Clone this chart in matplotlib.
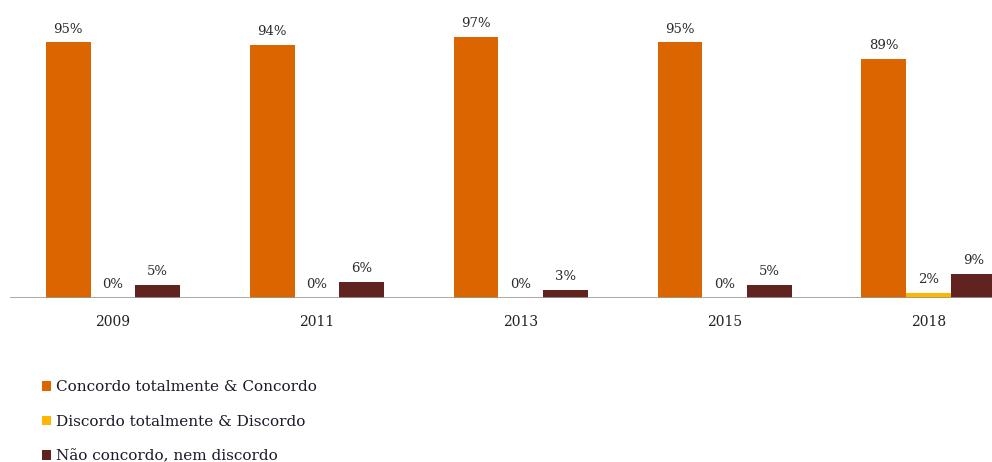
import numpy as np
import matplotlib.pyplot as plt
from matplotlib.patches import Patch

years = ["2009", "2011", "2013", "2015", "2018"]
concordo = [95, 94, 97, 95, 89]
discordo = [0, 0, 0, 0, 2]
neutro = [5, 6, 3, 5, 9]
series_names = ["Concordo totalmente & Concordo",
                "Discordo totalmente & Discordo",
                "Não concordo, nem discordo"]
colors = ["#DB6600", "#FFB600", "#602320"]

plt.rcParams['font.family'] = ['DejaVu Serif', 'Liberation Serif']

fig = plt.figure(figsize=(9.92, 4.62), dpi=100)
ax = fig.add_axes([10 / 992, 164 / 462, 982 / 992, 298 / 462])

x = np.arange(len(years))
w = 0.22
offsets = [-w, 0, w]
for vals, off, c in zip([concordo, discordo, neutro], offsets, colors):
    bars = ax.bar(x + off, vals, width=w, color=c, edgecolor="none")
    for b, v in zip(bars, vals):
        ax.text(b.get_x() + b.get_width() / 2, v + 2.5, f"{v}%",
                ha="center", va="bottom", fontsize=9.5, color="#2b2b2b")

ax.set_xlim(-0.505, 4.31)
ax.set_ylim(0, 110.8)
ax.axhline(0, color="#999999", lw=1.2)
for s in ax.spines.values():
    s.set_visible(False)
ax.set_yticks([])
ax.set_xticks(x)
ax.set_xticklabels(years, fontsize=10, color="#222222")
ax.tick_params(axis="x", length=0, pad=12)

handles = [Patch(facecolor=c, edgecolor="none") for c in colors]
fig.legend(handles, series_names, loc="upper left", bbox_to_anchor=(0.036, 0.19),
           frameon=False, fontsize=11, handlelength=0.6, handleheight=0.6,
           handletextpad=0.3, labelspacing=1.35, borderaxespad=0,
           labelcolor="#1a1a2a")

fig.savefig("out.png", dpi=100)
